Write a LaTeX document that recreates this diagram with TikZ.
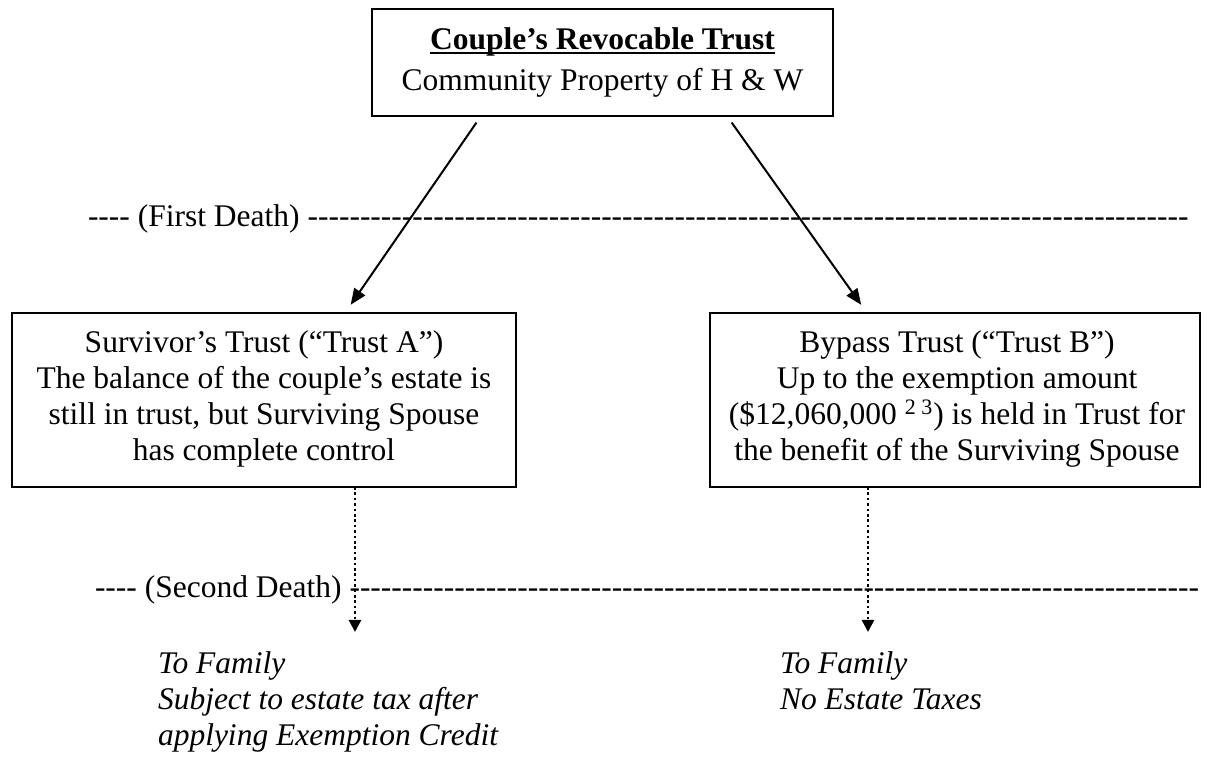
\documentclass[tikz,border=0pt]{standalone}
\usepackage{fontspec}
\setmainfont{Liberation Serif}[Ligatures=TeXOff]
\usetikzlibrary{arrows.meta,fit}
\newcommand\hyphrun[1]{\foreach \i in {1,...,#1}{-}}
\newcommand\thickul[1]{\setbox0\hbox{#1}\rlap{\rule[-2.2pt]{\wd0}{1.4pt}}\box0}
\begin{document}
\begin{tikzpicture}[x=0.5pt,y=-0.5pt,
  every node/.style={inner sep=0pt, outer sep=0pt},
  txt/.style={font=\fontsize{15.75}{18}\selectfont, anchor=base},
  ltxt/.style={font=\fontsize{15.75}{18}\selectfont, anchor=base west},
  itxt/.style={font=\fontsize{15.75}{18}\selectfont\itshape, anchor=base west},
  boxed/.style={draw, line width=1pt, inner sep=0pt},
  arr/.style={line width=1pt, -{Triangle[length=8pt,width=6.5pt]}},
  dotarr/.style={line width=1.3pt, dash pattern=on 1.3pt off 1.4pt, -{Triangle[length=6pt,width=6pt]}}]
\useasboundingbox (0,0) rectangle (1207,774);

% boxes
\node[boxed, fit={(372,9) (833,116)}] (top) {};
\node[boxed, fit={(12,313) (516,487)}] (lbox) {};
\node[boxed, fit={(710,313) (1200,487)}] (rbox) {};

% top text
\node[txt] (t1) at (602.5,50) {\textbf{\thickul{Couple’s Revocable Trust}}};
\node[txt] (t2) at (602.5,91) {Community Property of H \& W};

% left box text
\node[txt] (l1) at (264,353) {Survivor’s Trust (“Trust A”)};
\node[txt] (l2) at (264,389) {The balance of the couple’s estate is};
\node[txt] (l3) at (264,425) {still in trust, but Surviving Spouse};
\node[txt] (l4) at (264,461) {has complete control};

% right box text
\node[txt] (r1) at (957,353) {Bypass Trust (“Trust B”)};
\node[txt] (r2) at (957,389) {Up to the exemption amount};
\node[txt] (r3) at (957,425) {(\$12,060,000 \textsuperscript{2 3}) is held in Trust for};
\node[txt] (r4) at (957,461) {the benefit of the Surviving Spouse};

% death lines
\node[ltxt] (d1) at (88,227) {---- (First Death) \hyphrun{84}};
\node[ltxt] (d2) at (95,598) {---- (Second Death) \hyphrun{81}};

% arrows
\coordinate (s1) at (481,0);
\coordinate (s2) at (727,0);
\coordinate (e1) at (345,0);
\coordinate (e2) at (867,0);
\draw[arr, shorten <=4pt, shorten >=5pt] (top.south -| s1) -- (lbox.north -| e1);
\draw[arr, shorten <=4pt, shorten >=5pt] (top.south -| s2) -- (rbox.north -| e2);

% dotted arrows
\coordinate (f1) at (355,632);
\coordinate (f2) at (868,632);
\draw[dotarr] (lbox.south -| f1) -- (f1);
\draw[dotarr] (rbox.south -| f2) -- (f2);

% bottom texts
\node[itxt] (b1) at (158,674) {To Family};
\node[itxt] (b2) at (158,710) {Subject to estate tax after};
\node[itxt] (b3) at (158,746) {applying Exemption Credit};
\node[itxt] (b4) at (780,674) {To Family};
\node[itxt] (b5) at (780,710) {No Estate Taxes};
\end{tikzpicture}
\end{document}
